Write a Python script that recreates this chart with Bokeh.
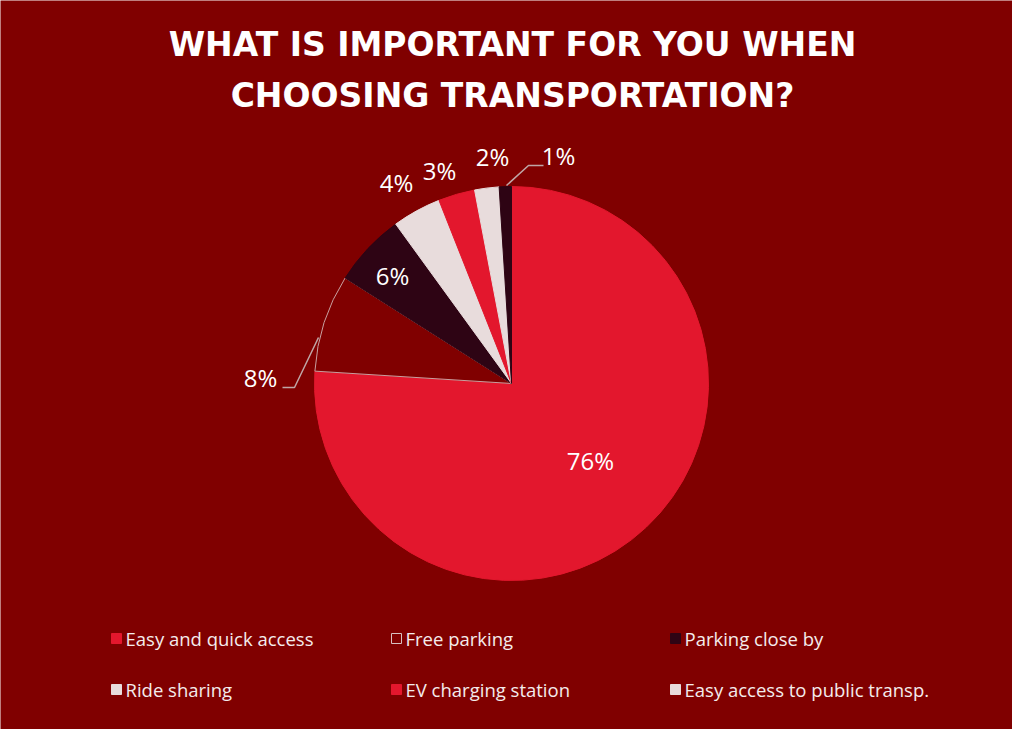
import numpy as np
from bokeh.plotting import figure
from bokeh.models import Range1d, ColumnDataSource
from bokeh.core.properties import value
from bokeh.embed import file_html
from bokeh.resources import INLINE

# ---- data ----
categories = ["Easy and quick access", "Free parking", "Parking close by",
              "Ride sharing", "EV charging station", "Easy access to public transp.", "Other"]
values = [76, 8, 6, 4, 3, 2, 1]
legend_items = categories[:6]
title_lines = ["WHAT IS IMPORTANT FOR YOU WHEN", "CHOOSING TRANSPORTATION?"]

# ---- style ----
BG = "#800000"
RED = "#E3172D"
DARK = "#2E0414"
LIGHT = "#E8DCDC"
slice_colors = [RED, BG, DARK, LIGHT, RED, LIGHT, DARK]
slice_lines = [RED, "#C8A0A0", DARK, LIGHT, RED, LIGHT, DARK]

W, H = 1012, 729
OX, OY = 8, 8  # page offset


def px(X):
    return X - OX


def py(Y):
    return H - (Y - OY)


p = figure(width=W, height=H, x_range=Range1d(0, W), y_range=Range1d(0, H),
           x_axis_type=None, y_axis_type=None, toolbar_location=None,
           output_backend="svg", min_border=0, background_fill_color=BG,
           border_fill_color=BG, outline_line_color=None)
p.grid.visible = False

# ---- pie ----
vals = np.array(values, dtype=float)
frac = vals / vals.sum()
cum_end = np.cumsum(frac)
cum_start = cum_end - frac
start = np.pi / 2 - cum_end * 2 * np.pi
end = np.pi / 2 - cum_start * 2 * np.pi
cx, cy, R = px(519), py(391), 197
src = ColumnDataSource(dict(start=start, end=end, color=slice_colors, lc=slice_lines,
                            x=[cx] * len(values), y=[cy] * len(values)))
p.wedge(x="x", y="y", radius=R, start_angle="start", end_angle="end",
        fill_color="color", line_color="lc", line_width=1, source=src)

# ---- labels ----
label_pos = [(598, 468), (268, 385), (400, 283), (404, 190), (447, 178), (500, 164), (566, 163)]
lx = [px(a) for a, b in label_pos]
ly = [py(b) for a, b in label_pos]
p.text(x=lx, y=ly, text=[f"{v}%" for v in values], text_color="white",
       text_font=value("Open Sans"), text_font_size=value("24px"),
       text_align="center", text_baseline="middle")

# leader lines
p.line(x=[px(290), px(302), px(326)], y=[py(395), py(395), py(345)],
       line_color="#BFA6A6", line_width=1.5)
p.line(x=[px(514), px(536), px(551)], y=[py(193), py(173), py(173)],
       line_color="#BFA6A6", line_width=1.5)

# ---- title ----
p.text(x=[px(520), px(520)], y=[py(52), py(103)], text=title_lines,
       text_color="white", text_font=value("DejaVu Sans"), text_font_style="bold",
       text_font_size=value("33px"), text_align="center", text_baseline="middle")

# ---- legend ----
col_x = [124, 404, 683]
row_y = [646, 697]
leg_colors = [RED, BG, DARK, LIGHT, RED, LIGHT]
mx, my = [], []
for i, name in enumerate(legend_items):
    mx.append(px(col_x[i % 3]))
    my.append(py(row_y[i // 3]))
p.rect(x=mx, y=my, width=10, height=10, fill_color=leg_colors,
       line_color=[RED, "#D8C0C0", DARK, LIGHT, RED, LIGHT], line_width=1)
p.text(x=[m + 9 for m in mx], y=my, text=legend_items, text_color="#F4ECEC",
       text_font=value("Open Sans"), text_font_size=value("18.5px"),
       text_align="left", text_baseline="middle")

open("out.html", "w").write(file_html(p, INLINE))
